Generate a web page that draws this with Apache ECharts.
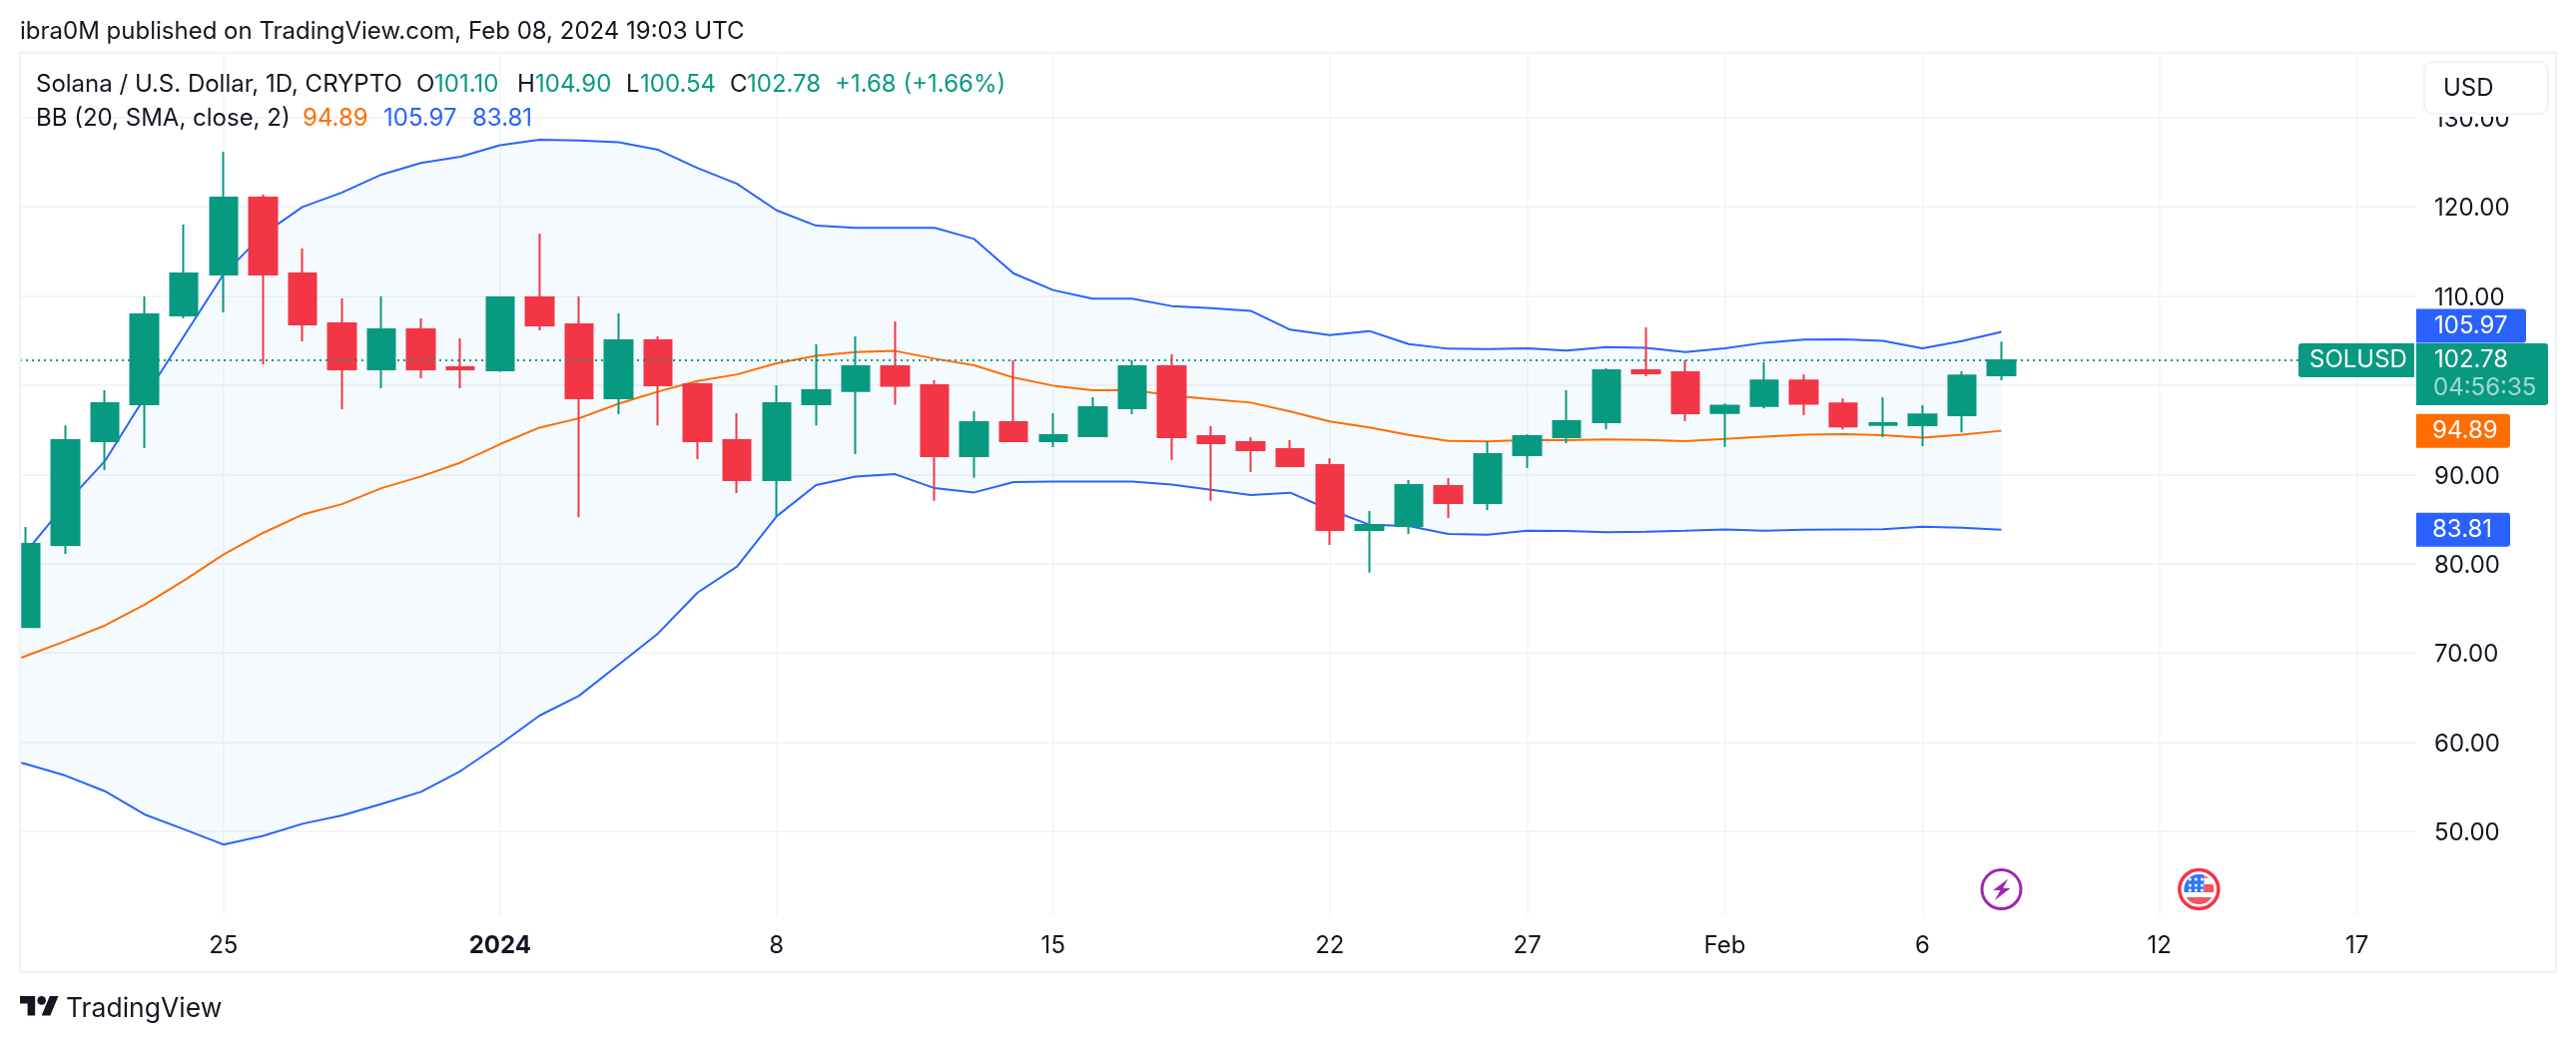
<!DOCTYPE html>
<html><head><meta charset="utf-8">
<style>html,body{margin:0;padding:0;background:#fff}#c{width:2580px;height:1042px}</style>
<script src="https://cdn.jsdelivr.net/npm/echarts@6/dist/echarts.min.js"></script>
</head><body><div id="c"></div>
<script>
const dates = ['2023-12-20','2023-12-21','2023-12-22','2023-12-23','2023-12-24','2023-12-25','2023-12-26','2023-12-27','2023-12-28','2023-12-29','2023-12-30','2023-12-31',
'2024-01-01','2024-01-02','2024-01-03','2024-01-04','2024-01-05','2024-01-06','2024-01-07','2024-01-08','2024-01-09','2024-01-10','2024-01-11','2024-01-12','2024-01-13','2024-01-14','2024-01-15','2024-01-16','2024-01-17','2024-01-18','2024-01-19','2024-01-20','2024-01-21','2024-01-22','2024-01-23','2024-01-24','2024-01-25','2024-01-26','2024-01-27','2024-01-28','2024-01-29','2024-01-30','2024-01-31',
'2024-02-01','2024-02-02','2024-02-03','2024-02-04','2024-02-05','2024-02-06','2024-02-07','2024-02-08'];
const opens = [72.9,82.1,93.72,97.86,107.82,112.4,121.01,112.51,106.92,101.78,106.25,102.0,101.66,109.83,106.81,98.53,105.02,100.1,93.83,89.36,97.86,99.35,102.11,100.0,92.05,95.85,93.73,94.29,97.42,102.11,94.29,93.61,92.83,91.05,83.78,84.22,88.69,86.79,92.16,94.18,95.85,101.67,101.44,96.9,97.66,100.53,97.96,95.56,95.52,96.63,101.1];
const closes = [82.2,93.83,97.97,107.93,112.51,121.01,112.4,106.81,101.78,106.25,101.78,101.78,109.83,106.7,98.53,105.02,99.99,93.72,89.36,97.97,99.43,102.11,99.93,92.05,95.85,93.73,94.4,97.53,102.11,94.18,93.5,92.72,90.93,83.78,84.33,88.8,86.79,92.27,94.29,95.96,101.67,101.33,96.86,97.7,100.53,97.92,95.39,95.73,96.72,101.08,102.78];
const lows = [72.9,81.1,90.48,92.94,107.48,108.15,102.33,104.91,97.3,99.65,100.77,99.65,101.5,106.14,85.2,96.74,95.5,91.71,87.9,85.3,95.5,92.27,97.8,87.05,89.62,93.73,93.06,94.18,96.75,91.6,87.05,90.26,90.82,82.1,79.0,83.33,85.11,86.0,90.71,93.5,95.07,101.0,95.96,93.08,97.4,96.63,95.05,94.19,93.17,94.7,100.54];
const highs = [84.1,95.5,99.43,109.94,118.0,126.16,121.35,115.31,109.72,109.94,107.48,105.24,109.83,116.99,109.94,108.04,105.47,100.28,96.85,99.99,104.57,105.47,107.16,100.55,97.08,102.78,96.86,98.65,102.78,103.46,95.4,94.18,93.84,91.83,85.89,89.36,89.58,93.73,94.5,99.43,101.9,106.48,102.78,97.96,102.58,101.2,98.51,98.64,97.75,101.55,104.9];
// Bollinger arrays start one day earlier (2023-12-19): that day runs off the left edge of the plot
const bbFirstDate = '2023-12-19';
const bbUpper = [76.5,81.3,86.7,91.5,98.6,105.5,112.4,116.9,119.97,121.6,123.6,124.9,125.6,126.9,127.5,127.43,127.24,126.38,124.33,122.58,119.6,117.88,117.63,117.63,117.63,116.39,112.52,110.66,109.69,109.69,108.87,108.64,108.34,106.22,105.62,106.07,104.61,104.09,104.05,104.13,103.87,104.28,104.2,103.72,104.12,104.76,105.1,105.15,104.98,104.12,104.94,105.97];
const bbBasis = [68.1,69.66,71.32,73.07,75.4,78.12,81.03,83.44,85.5,86.67,88.46,89.77,91.33,93.39,95.25,96.29,97.93,99.28,100.47,101.21,102.45,103.3,103.71,103.84,102.97,102.23,100.85,99.95,99.44,99.47,98.84,98.43,98.05,97.05,95.93,95.26,94.44,93.77,93.69,93.88,93.84,93.92,93.88,93.73,93.98,94.24,94.45,94.5,94.41,94.11,94.45,94.89];
const bbLower = [58.7,57.54,56.25,54.5,51.9,50.23,48.52,49.49,50.85,51.78,53.07,54.43,56.76,59.75,62.97,65.19,68.68,72.18,76.76,79.67,85.3,88.8,89.77,90.03,88.46,87.98,89.14,89.21,89.21,89.21,88.87,88.28,87.68,87.95,86.04,84.37,84.22,83.33,83.25,83.7,83.66,83.51,83.59,83.7,83.83,83.7,83.79,83.83,83.87,84.13,84.04,83.81];
const lastPrice = 102.78;
const priceTicks = [50,60,70,80,90,100,110,120,130];
const timeTicks = ['2023-12-25','2024-01-01','2024-01-08','2024-01-15','2024-01-22','2024-01-27','2024-02-01','2024-02-06','2024-02-12','2024-02-17'];
const timeLabels = ['25','2024','8','15','22','27','Feb','6','12','17'];
const tagValues = [105.97,102.78,94.89,83.81];
const tagTexts = ['105.97','102.78','94.89','83.81'];
const eventDates = ['2024-02-08','2024-02-13'];
const eventPrice = 43.5;

const FONT='Inter';
const GREEN='#089981',RED='#F23645',BLUE='#2962FF',ORANGE='#FF6D00',INK='#131722',GRID='#f3f4f6';
const DAY=864e5;
const t=d=>(Date.parse(d)-Date.parse(dates[0]))/DAY;
const xs=dates.map(t);
const bbXs=bbUpper.map((_,i)=>t(bbFirstDate)+i);
const xMin=t('2023-12-25')-5.15, xMax=t('2023-12-25')+55.5;
const pair=a=>a.map((v,i)=>[bbXs[i],v]);
const tickLabel={};timeTicks.forEach((d,i)=>tickLabel[t(d)]=timeLabels[i]);

function txt(x,y,s,fill,o){return Object.assign({type:'text',x,y,z:50,style:{text:s,fill:fill||INK,font:'24px '+FONT,textVerticalAlign:'middle',textBaseline:'middle'}},o||{});}
const graphic=[
 {type:'rect',z:90,shape:{x:0,y:50,width:19,height:930},style:{fill:'#fff'},silent:true},
 {type:'rect',z:91,shape:{x:20,y:53,width:2540,height:921},style:{fill:'none',stroke:'#f0f3fa',lineWidth:2.5},silent:true},
 txt(20,32,'ibra0M published on TradingView.com, Feb 08, 2024 19:03 UTC'),
 txt(36,85,'Solana / U.S. Dollar, 1D, CRYPTO'),
 txt(417,85,'O'),txt(435,85,'101.10',GREEN),
 txt(518,85,'H'),txt(536,85,'104.90',GREEN),
 txt(627,85,'L'),txt(641,85,'100.54',GREEN),
 txt(731,85,'C'),txt(748,85,'102.78',GREEN),
 txt(836,85,'+1.68 (+1.66%)',GREEN),
 txt(36,119,'BB (20, SMA, close, 2)'),
 txt(303,119,'94.89',ORANGE),txt(384,119,'105.97',BLUE),txt(473,119,'83.81',BLUE),
 {type:'rect',z:59,shape:{x:2425,y:60,width:130,height:57},style:{fill:'#fff'}},
 {type:'rect',z:60,shape:{x:2428,y:62,width:124,height:52,r:8},style:{fill:'#fff',stroke:'#f0f3fa',lineWidth:2}},
 txt(2447,89,'USD',INK,{z:61}),
 {type:'group',x:20,y:998,scaleX:39/36,scaleY:39/36,children:[
   {type:'polygon',shape:{points:[[0,0],[14,0],[14,18],[7,18],[7,7],[0,7]]},style:{fill:INK}},
   {type:'polygon',shape:{points:[[20,18],[28,18],[35.5,0],[27.5,0]]},style:{fill:INK}},
   {type:'circle',shape:{cx:20,cy:4,r:4},style:{fill:INK}}]},
 txt(66,1011,'TradingView',INK,{style:{text:'TradingView',fill:INK,font:'26.5px '+FONT,textVerticalAlign:'middle',textBaseline:'middle'}})
];

function renderBand(params,api){
 if(params.dataIndex!==0) return null;
 const top=bbXs.map((x,i)=>api.coord([x,bbUpper[i]]));
 const bot=bbXs.map((x,i)=>api.coord([x,bbLower[i]])).reverse();
 return {type:'polygon',shape:{points:top.concat(bot)},style:{fill:'rgba(33,150,243,0.045)'}};
}
function renderTag(params,api){
 const i=api.value(2), cs=params.coordSys, left=cs.x+cs.width;
 const cy=api.coord([xs[0],api.value(1)])[1];
 const h=34, ch=[];
 if(i===0){ch.push({type:'rect',shape:{x:left,y:cy-h/2-6,width:110,height:h,r:[0,3,3,0]},style:{fill:BLUE}},
   {type:'text',x:left+18,y:cy-6,style:{text:tagTexts[0],fill:'#fff',font:'24px '+FONT,textVerticalAlign:'middle'}});}
 if(i===1){ch.push({type:'rect',shape:{x:left,y:cy-h/2,width:132,height:62,r:[0,3,3,0]},style:{fill:GREEN}},
   {type:'text',x:left+18,y:cy,style:{text:tagTexts[1],fill:'#fff',font:'24px '+FONT,textVerticalAlign:'middle'}},
   {type:'text',x:left+17,y:cy+28,style:{text:'04:56:35',fill:'rgba(255,255,255,0.62)',font:'24px '+FONT,textVerticalAlign:'middle'}},
   {type:'rect',shape:{x:left-118,y:cy-h/2,width:116,height:h,r:[3,0,0,3]},style:{fill:GREEN}},
   {type:'text',x:left-107,y:cy,style:{text:'SOLUSD',fill:'#fff',font:'24px '+FONT,textVerticalAlign:'middle'}});}
 if(i>=2){ch.push({type:'rect',shape:{x:left,y:cy-h/2,width:94,height:h,r:[0,3,3,0]},style:{fill:i===2?ORANGE:BLUE}},
   {type:'text',x:left+16,y:cy,style:{text:tagTexts[i],fill:'#fff',font:'24px '+FONT,textVerticalAlign:'middle'}});}
 return {type:'group',children:ch};
}
function renderEvent(params,api){
 const p=api.coord([api.value(0),api.value(1)]), x=p[0], y=p[1];
 if(params.dataIndex===0){
  return {type:'group',x,y,children:[
   {type:'circle',shape:{cx:0,cy:0,r:19.5},style:{fill:'#fff',stroke:'#9C27B0',lineWidth:3}},
   {type:'polygon',shape:{points:[[6.7,-10.5],[-8.3,1],[-1,1],[-6.7,11],[9,-1],[1.7,-1.3]]},style:{fill:'#9C27B0'}}]};
 }
 const flag=[
  {type:'rect',shape:{x:-16,y:-16,width:32,height:32},style:{fill:'#fff'}},
  {type:'rect',shape:{x:-16,y:-16,width:32,height:5},style:{fill:'#F77C80'}},
  {type:'rect',shape:{x:5,y:-5,width:11,height:8},style:{fill:'#F7525F'}},
  {type:'rect',shape:{x:-16,y:8,width:32,height:8},style:{fill:'#F7525F'}},
  {type:'rect',shape:{x:-16,y:-16,width:21,height:19},style:{fill:'#3179F5'}}];
 [-10,-4,1].forEach(dy=>[-9,-3,3].forEach(dx=>flag.push({type:'circle',shape:{cx:dx,cy:dy,r:1.5},style:{fill:'#fff'}})));
 return {type:'group',x,y,children:[
   {type:'circle',shape:{cx:0,cy:0,r:19.5},style:{fill:'#fff',stroke:RED,lineWidth:3.5}},
   {type:'group',clipPath:{type:'circle',shape:{cx:0,cy:0,r:15}},children:flag}]};
}

const chart=echarts.init(document.getElementById('c'),null,{renderer:'canvas'});
chart.setOption({
 animation:false,backgroundColor:'#fff',textStyle:{fontFamily:FONT},
 grid:{left:20,right:160,top:53,height:864,containLabel:false},
 xAxis:{type:'value',min:xMin,max:xMax,
  axisLine:{show:false},axisTick:{show:false,customValues:timeTicks.map(t)},
  axisLabel:{customValues:timeTicks.map(t),hideOverlap:false,margin:19,color:INK,fontSize:24,fontFamily:FONT,showMinLabel:true,showMaxLabel:true,
   formatter:v=>{const s=tickLabel[v];return s==='2024'?'{b|2024}':s;},
   rich:{b:{fontWeight:'bold',fontSize:24,fontFamily:FONT,color:INK}}},
  splitLine:{show:true,lineStyle:{color:GRID,width:1.5}}},
 yAxis:{type:'value',position:'right',min:40.6,max:137.24,scale:true,
  axisLine:{show:false},axisTick:{show:false,customValues:priceTicks},
  axisLabel:{customValues:priceTicks,margin:18,align:'left',verticalAlign:'top',padding:[-10,0,0,0],color:INK,fontSize:24,fontFamily:FONT,formatter:v=>v.toFixed(2)},
  splitLine:{show:true,lineStyle:{color:GRID,width:2}}},
 graphic,
 series:[
  {name:'Band',type:'custom',z:1,clip:true,silent:true,renderItem:renderBand,encode:{x:0,y:1},data:bbUpper.map((u,i)=>[bbXs[i],u,bbLower[i]])},
  {name:'Price line',type:'line',data:[],z:1,silent:true,
   markLine:{silent:true,symbol:'none',label:{show:false},animation:false,data:[{yAxis:lastPrice}],lineStyle:{color:GREEN,type:[2,4],width:2}}},
  {name:'BB Upper',type:'line',data:pair(bbUpper),symbol:'none',lineStyle:{color:BLUE,width:2},z:2},
  {name:'BB Lower',type:'line',data:pair(bbLower),symbol:'none',lineStyle:{color:BLUE,width:2},z:2},
  {name:'BB Basis',type:'line',data:pair(bbBasis),symbol:'none',lineStyle:{color:ORANGE,width:2},z:2},
  {name:'SOLUSD',type:'candlestick',z:3,barWidth:28,
   data:xs.map((x,i)=>[x,opens[i],closes[i],lows[i],highs[i]]),
   itemStyle:{color:GREEN,color0:RED,borderColor:GREEN,borderColor0:RED,borderWidth:2}},
  {name:'Tags',type:'custom',z:10,renderItem:renderTag,encode:{x:0,y:1},data:tagValues.map((v,i)=>[xs[0],v,i]),silent:true},
  {name:'Events',type:'custom',z:5,renderItem:renderEvent,encode:{x:0,y:1},data:eventDates.map(d=>[t(d),eventPrice]),silent:true}
 ]
});
</script></body></html>
